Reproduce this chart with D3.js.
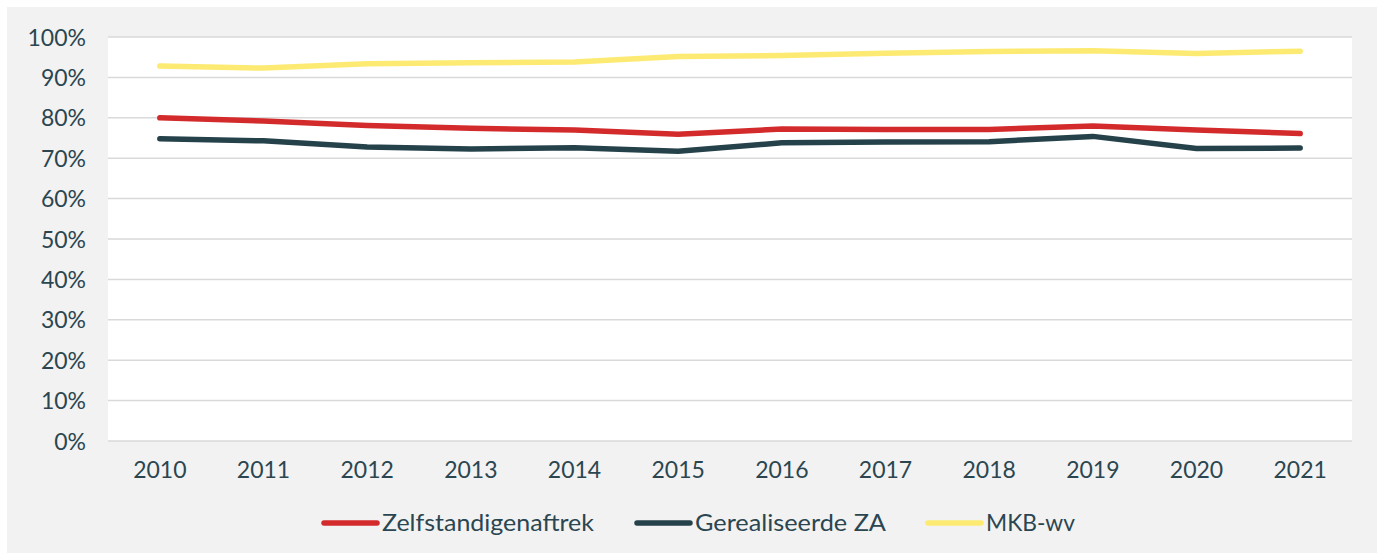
<!DOCTYPE html>
<html>
<head>
<meta charset="utf-8">
<script src="https://cdn.jsdelivr.net/npm/d3@7"></script>
<style>
  body { margin: 0; background: #fff; }
  svg text { font-family: Lato, "Open Sans", sans-serif; fill: #2b4650; }
</style>
</head>
<body>
<svg id="chart" width="1384" height="558"></svg>
<script>
// data
var years = ["2010", "2011", "2012", "2013", "2014", "2015", "2016", "2017", "2018", "2019", "2020", "2021"];
var zelfstandigenaftrek = [80.0, 79.2, 78.1, 77.4, 77.0, 75.9, 77.2, 77.1, 77.1, 78.0, 77.0, 76.1];
var gerealiseerdeZA = [74.8, 74.3, 72.8, 72.3, 72.6, 71.7, 73.8, 74.0, 74.1, 75.4, 72.4, 72.5];
var mkbWv = [92.8, 92.3, 93.4, 93.6, 93.8, 95.2, 95.4, 96.0, 96.4, 96.6, 95.9, 96.5];
var yTicks = [0, 10, 20, 30, 40, 50, 60, 70, 80, 90, 100];

var series = [
  { name: "Zelfstandigenaftrek", values: zelfstandigenaftrek, color: "#d32b2b" },
  { name: "Gerealiseerde ZA", values: gerealiseerdeZA, color: "#25424a" },
  { name: "MKB-wv", values: mkbWv, color: "#fdea73" }
];

var svg = d3.select("#chart");
var plotL = 108, plotR = 1352, plotT = 37, plotB = 441;

// grey card
svg.append("rect")
  .attr("x", 7).attr("y", 7)
  .attr("width", 1370).attr("height", 546)
  .attr("fill", "#f2f2f2");

svg.append("rect")
  .attr("x", plotL).attr("y", plotT)
  .attr("width", plotR - plotL).attr("height", plotB - plotT)
  .attr("fill", "#fff");

var x = d3.scaleBand().domain(years).range([plotL, plotR]);
var y = d3.scaleLinear().domain([0, 100]).range([plotB, plotT]);

// gridlines
svg.append("g").selectAll("line")
  .data(yTicks)
  .enter().append("line")
  .attr("x1", plotL).attr("x2", plotR)
  .attr("y1", function (d) { return y(d); })
  .attr("y2", function (d) { return y(d); })
  .attr("stroke", "#d9d9d9")
  .attr("stroke-width", 1.5);

// y axis labels
var yAxis = svg.append("g")
  .attr("transform", "translate(" + (plotL - 22) + ",0)")
  .call(d3.axisLeft(y).tickValues(yTicks).tickSize(0).tickPadding(0)
    .tickFormat(function (d) { return d + "%"; }));
yAxis.select(".domain").remove();
yAxis.selectAll("text").style("font-size", "23px").attr("dy", "0.35em");

// x axis labels
var xAxis = svg.append("g")
  .attr("transform", "translate(0," + (plotB + 29) + ")")
  .call(d3.axisBottom(x).tickSize(0).tickPadding(0));
xAxis.select(".domain").remove();
xAxis.selectAll("text").style("font-size", "23px").attr("dy", "0.35em");

var line = d3.line()
  .x(function (d, i) { return x(years[i]) + x.bandwidth() / 2; })
  .y(function (d) { return y(d); });

svg.append("g").selectAll("path")
  .data(series.slice().reverse())
  .enter().append("path")
  .attr("d", function (s) { return line(s.values); })
  .attr("fill", "none")
  .attr("stroke", function (s) { return s.color; })
  .attr("stroke-width", 5.5)
  .attr("stroke-linecap", "round")
  .attr("stroke-linejoin", "round");

// legend (condensed face in the original, so squeeze the text)
var legendX = [324, 637, 928];
var legendW = [212, 191, 89];
var legend = svg.append("g").selectAll("g")
  .data(series)
  .enter().append("g")
  .attr("transform", function (d, i) { return "translate(" + legendX[i] + ",523)"; });
legend.append("line")
  .attr("x1", 0).attr("x2", 53)
  .attr("stroke", function (d) { return d.color; })
  .attr("stroke-width", 5.5)
  .attr("stroke-linecap", "round");
legend.append("text")
  .attr("x", 58).attr("dy", "0.35em")
  .style("font-size", "24px")
  .attr("textLength", function (d, i) { return legendW[i]; })
  .attr("lengthAdjust", "spacingAndGlyphs")
  .text(function (d) { return d.name; });
</script>
</body>
</html>
